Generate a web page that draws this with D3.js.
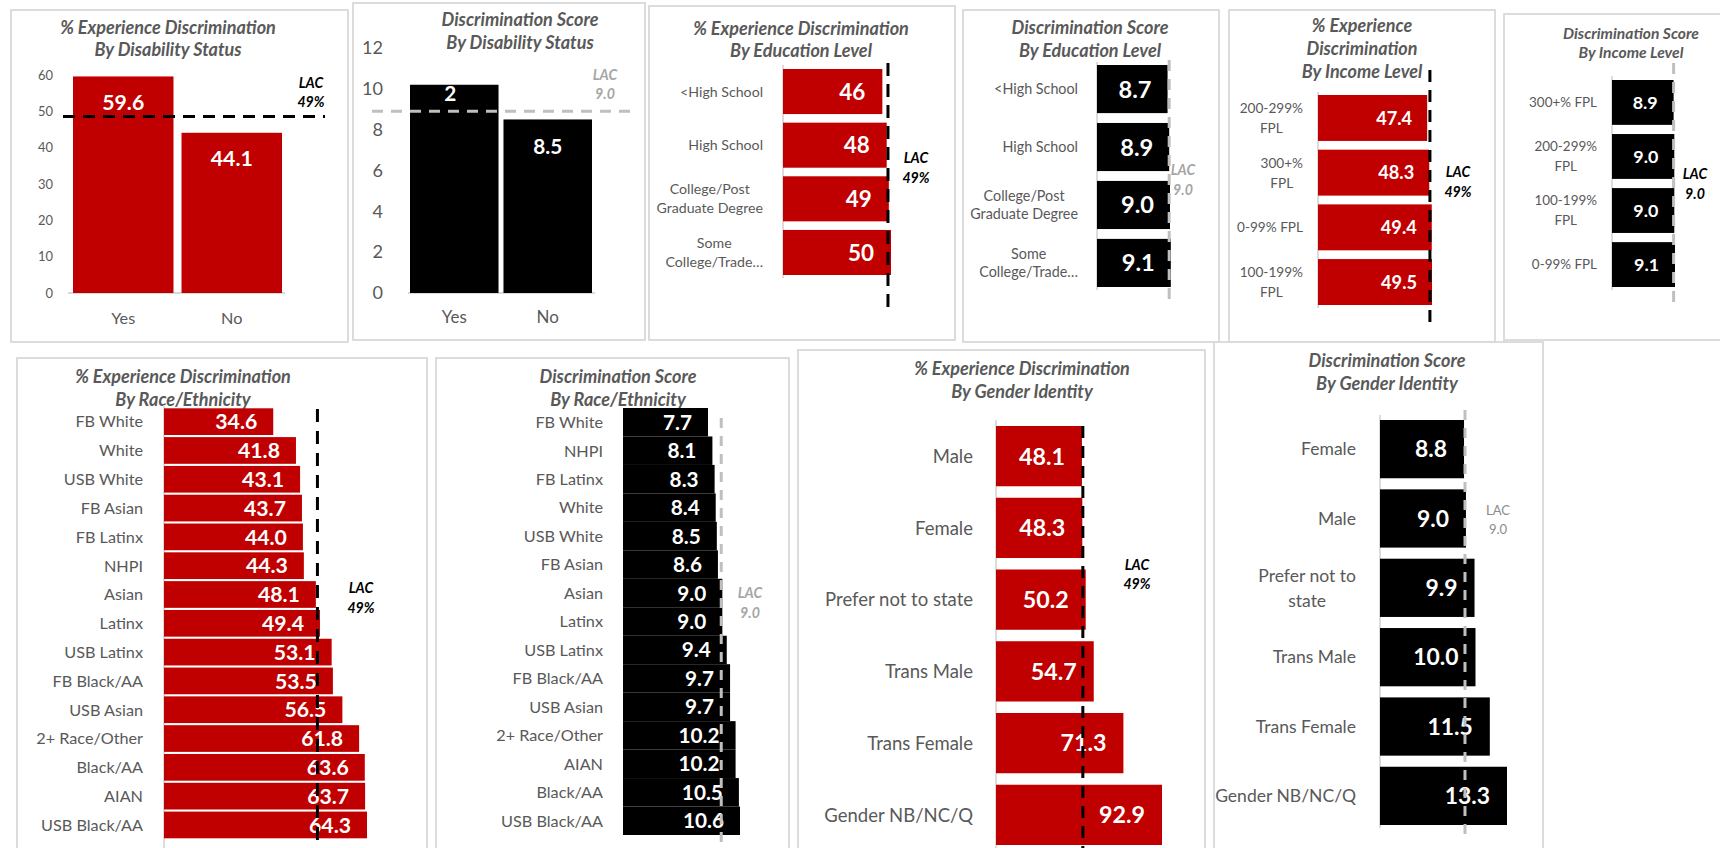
<!DOCTYPE html>
<html><head><meta charset="utf-8">
<script src="https://cdn.jsdelivr.net/npm/d3@7"></script>
<style>
html,body{margin:0;padding:0;background:#fff;overflow:hidden}
svg{display:block}
</style></head><body>
<svg id="c" width="1720" height="848"></svg>
<script>
// ---------------- DATA ----------------
const disabilityCats = ["Yes", "No"];
const disabilityPct = [59.6, 44.1];
const disabilityScore = [10.2, 8.5];
const disabilityScoreLabels = ["2", "8.5"];
const disabilityPctTicks = [0, 10, 20, 30, 40, 50, 60];
const disabilityScoreTicks = [0, 2, 4, 6, 8, 10, 12];

const educationCats = ["<High School", "High School", "College/Post\nGraduate Degree", "Some\nCollege/Trade…"];
const educationPct = [46, 48, 49, 50];
const educationScore = [8.7, 8.9, 9.0, 9.1];

const incomePctCats = ["200-299%\nFPL", "300+%\nFPL", "0-99% FPL", "100-199%\nFPL"];
const incomePct = [47.4, 48.3, 49.4, 49.5];
const incomeScoreCats = ["300+% FPL", "200-299%\nFPL", "100-199%\nFPL", "0-99% FPL"];
const incomeScore = [8.9, 9.0, 9.0, 9.1];

const racePctCats = ["FB White", "White", "USB White", "FB Asian", "FB Latinx", "NHPI", "Asian", "Latinx", "USB Latinx", "FB Black/AA", "USB Asian", "2+ Race/Other", "Black/AA", "AIAN", "USB Black/AA"];
const racePct = [34.6, 41.8, 43.1, 43.7, 44.0, 44.3, 48.1, 49.4, 53.1, 53.5, 56.5, 61.8, 63.6, 63.7, 64.3];
const raceScoreCats = ["FB White", "NHPI", "FB Latinx", "White", "USB White", "FB Asian", "Asian", "Latinx", "USB Latinx", "FB Black/AA", "USB Asian", "2+ Race/Other", "AIAN", "Black/AA", "USB Black/AA"];
const raceScore = [7.7, 8.1, 8.3, 8.4, 8.5, 8.6, 9.0, 9.0, 9.4, 9.7, 9.7, 10.2, 10.2, 10.5, 10.6];

const genderPctCats = ["Male", "Female", "Prefer not to state", "Trans Male", "Trans Female", "Gender NB/NC/Q"];
const genderPct = [48.1, 48.3, 50.2, 54.7, 71.3, 92.9];
const genderScoreCats = ["Female", "Male", "Prefer not to\nstate", "Trans Male", "Trans Female", "Gender NB/NC/Q"];
const genderScore = [8.8, 9.0, 9.9, 10.0, 11.5, 13.3];

const lacPctValue = 48.6;   const lacPctLabel = ["LAC", "49%"];
const lacScoreValue = 8.9;  const lacScoreLabel = ["LAC", "9.0"];

// ---------------- STYLE ----------------
const FONT = "Lato, 'Noto Sans', sans-serif";
const RED = "#C00000", BLACK = "#000000", GRAY = "#595959", BORDER = "#d9d9d9", LGRAY = "#bfbfbf", LACGRAY = "#a6a6a6";
const svg = d3.select("#c").style("font-family", FONT);

// font size so that a sample string reaches a measured width
const meas = svg.append("text").attr("x", 10).attr("y", 400).attr("font-size", 100).attr("fill", "none");
function fit(sample, w, bold, italic) {
  meas.attr("font-weight", bold ? "bold" : "normal").attr("font-style", italic ? "italic" : "normal").text(sample);
  return 100 * w / meas.node().getComputedTextLength();
}

function box(x0, y0, x1, y1) {
  svg.append("rect").attr("x", x0).attr("y", y0).attr("width", x1 - x0).attr("height", y1 - y0)
    .attr("fill", "#fff").attr("stroke", BORDER).attr("stroke-width", 1.8);
}
function title(lines, cx, baselines, fs) {
  lines.forEach((t, i) => svg.append("text").attr("x", cx).attr("y", baselines[i])
    .attr("text-anchor", "middle").attr("font-size", fs).attr("font-weight", "bold")
    .attr("font-style", "italic").attr("fill", GRAY).text(t));
}
function lacText(lines, cx, baselines, fs, color, bold, italic) {
  lines.forEach((t, i) => svg.append("text").attr("x", cx).attr("y", baselines[i])
    .attr("text-anchor", "middle").attr("font-size", fs)
    .attr("font-weight", bold ? "bold" : "normal").attr("font-style", italic ? "italic" : "normal")
    .attr("fill", color).text(t));
}
function catLabel(text, xRight, yCenter, fs, lh) {
  const lines = text.split("\n");
  const g = svg.append("g");
  const nodes = lines.map(l => g.append("text").attr("font-size", fs).attr("fill", GRAY).text(l));
  const widths = nodes.map(n => n.node().getComputedTextLength());
  const maxW = d3.max(widths);
  const cx = xRight - maxW / 2;
  const first = yCenter - (lines.length - 1) * lh / 2 + 0.36 * fs;
  nodes.forEach((n, i) => n.attr("x", cx).attr("y", first + i * lh).attr("text-anchor", "middle"));
}

function hbar(o) {
  const y = d3.scaleBand().domain(o.cats).range(o.yRange).paddingInner(o.pad).paddingOuter(0);
  const x = d3.scaleLinear().domain([0, o.dmax]).range(o.xRange);
  if (o.axis) svg.append("line").attr("x1", x(0)).attr("x2", x(0)).attr("y1", o.axis[0]).attr("y2", o.axis[1])
    .attr("stroke", BORDER).attr("stroke-width", 1.8);
  svg.append("g").selectAll("rect").data(o.vals).join("rect")
    .attr("x", x(0)).attr("y", (d, i) => y(o.cats[i])).attr("width", d => x(d) - x(0))
    .attr("height", y.bandwidth()).attr("fill", o.color);
  svg.append("g").selectAll("text").data(o.vals).join("text")
    .attr("x", d => x(d) - o.valPad).attr("y", (d, i) => y(o.cats[i]) + y.bandwidth() / 2 + 0.36 * o.valFs)
    .attr("text-anchor", "end").attr("font-size", o.valFs).attr("font-weight", "bold").attr("fill", "#fff")
    .text(d => d.toFixed(o.dec));
  o.cats.forEach(c => catLabel(c, o.catRight, y(c) + y.bandwidth() / 2, o.catFs, o.lh || 20));
  svg.append("line").attr("x1", x(o.lac)).attr("x2", x(o.lac)).attr("y1", o.lacY[0]).attr("y2", o.lacY[1])
    .attr("stroke", o.lacColor).attr("stroke-width", 3).attr("stroke-dasharray", o.dash);
}

function vbar(o) {
  const x = d3.scaleBand().domain(o.cats).range(o.xRange).paddingInner(o.pad).paddingOuter(0);
  const y = d3.scaleLinear().domain(o.domain).range(o.yRange);
  const ya = svg.append("g").attr("transform", `translate(${o.tickX},0)`)
    .call(d3.axisLeft(y).tickValues(o.ticks).tickSize(0).tickPadding(0));
  ya.select(".domain").remove();
  ya.selectAll("text").attr("font-size", o.tickFs).attr("fill", GRAY).attr("font-family", FONT);
  svg.append("line").attr("x1", o.base[0]).attr("x2", o.base[1]).attr("y1", y(0)).attr("y2", y(0))
    .attr("stroke", BORDER).attr("stroke-width", 1.8);
  svg.append("g").selectAll("rect").data(o.vals).join("rect")
    .attr("x", (d, i) => x(o.cats[i])).attr("y", d => y(d)).attr("width", x.bandwidth())
    .attr("height", d => y(0) - y(d)).attr("fill", o.color);
  const xa = svg.append("g").attr("transform", `translate(0,${y(0)})`)
    .call(d3.axisBottom(x).tickSize(0).tickPadding(o.xPad));
  xa.select(".domain").remove();
  xa.selectAll("text").attr("font-size", o.xFs).attr("fill", GRAY).attr("font-family", FONT);
  svg.append("g").selectAll("text").data(o.vals).join("text")
    .attr("x", (d, i) => x(o.cats[i]) + x.bandwidth() / 2 + (o.labDx ? o.labDx[i] : 0))
    .attr("y", (d, i) => y(d) + o.labDy[i])
    .attr("text-anchor", "middle").attr("font-size", o.valFs).attr("font-weight", "bold").attr("fill", "#fff")
    .text((d, i) => o.labels ? o.labels[i] : d.toFixed(1));
  svg.append("line").attr("x1", o.lacX[0]).attr("x2", o.lacX[1]).attr("y1", y(o.lac)).attr("y2", y(o.lac))
    .attr("stroke", o.lacColor).attr("stroke-width", 3).attr("stroke-dasharray", o.dash);
}

// font sizes fitted to reference text widths
const tPct = fit("% Experience Discrimination", 216, true, true);
const tScore = fit("Discrimination Score", 157, true, true);
const tIncPct = fit("Discrimination", 111, true, true);
const tIncScore = fit("Discrimination Score", 136, true, true);
const lacFs = fit("LAC", 24.5, true, true);
const lacFsReg = fit("LAC", 24, false, false);
const fs = {
  p1Tick: fit("60", 15, false, false), p1X: fit("Yes", 24, false, false), p1Val: fit("59.6", 42, true, false),
  p2Tick: fit("12", 21, false, false), p2X: fit("Yes", 25, false, false), p2Val: fit("8.5", 29, true, false),
  p3Cat: fit("<High School", 83, false, false), p3Val: fit("46", 26, true, false),
  p4Cat: fit("<High School", 84, false, false), p4Val: fit("8.7", 33, true, false),
  p5Cat: fit("0-99% FPL", 66, false, false), p5Val: fit("47.4", 36, true, false),
  p6Cat: fit("300+% FPL", 68, false, false), p6Val: fit("8.9", 25, true, false),
  p7Cat: fit("USB Black/AA", 102, false, false), p7Val: fit("34.6", 42, true, false),
  p8Cat: fit("USB Black/AA", 102, false, false), p8Val: fit("7.7", 29, true, false),
  p9Cat: fit("Prefer not to state", 148, false, false), p9Val: fit("48.1", 46, true, false),
  p10Cat: fit("Gender NB/NC/Q", 141, false, false), p10Val: fit("8.8", 32, true, false)
};
meas.remove();

// ---------------- PANELS ----------------
box(11, 10, 348, 342);
box(353, 3, 645, 340);
box(649, 6, 955, 340);
box(963, 10, 1219, 342);
box(1229, 10, 1495, 342);
box(1504, 14, 1730, 340);
box(17, 358, 427, 870);
box(436, 358, 789, 870);
box(798, 350, 1205, 870);
box(1214, 342, 1543, 870);

// P1
title(["% Experience Discrimination", "By Disability Status"], 168, [34, 56], tPct);
vbar({cats: disabilityCats, vals: disabilityPct, xRange: [73, 282], pad: 0.074, domain: [0, 60], yRange: [293, 75],
  ticks: disabilityPctTicks, tickX: 53, tickFs: fs.p1Tick, base: [68, 285], color: RED,
  xPad: 19, xFs: fs.p1X, valFs: fs.p1Val, labDy: [34, 33],
  lac: lacPctValue, lacX: [63, 325], lacColor: BLACK, dash: "12,8"});
lacText(lacPctLabel, 311, [88, 107], lacFs, BLACK, true, true);

// P2
title(["Discrimination Score", "By Disability Status"], 520, [26, 49], tScore);
vbar({cats: disabilityCats, vals: disabilityScore, labels: disabilityScoreLabels, xRange: [410, 592], pad: 0.053,
  domain: [0, 12], yRange: [293, 48], ticks: disabilityScoreTicks, tickX: 383, tickFs: fs.p2Tick,
  base: [408, 595], color: BLACK, xPad: 18, xFs: fs.p2X, valFs: fs.p2Val, labDy: [16, 35], labDx: [-4, 0],
  lac: lacScoreValue, lacX: [372, 638], lacColor: LGRAY, dash: "11,8"});
lacText(lacScoreLabel, 605, [80, 99], lacFs, LACGRAY, true, true);

// P3
title(["% Experience Discrimination", "By Education Level"], 801, [35, 57], tPct);
hbar({cats: educationCats, vals: educationPct, dec: 0, dmax: 50, xRange: [783, 891], yRange: [69, 275], pad: 0.16,
  axis: [65, 278], catRight: 763, catFs: fs.p3Cat, lh: 19, valFs: fs.p3Val, valPad: 17, color: RED,
  lac: lacPctValue, lacY: [63, 308], lacColor: BLACK, dash: "13,8"});
lacText(lacPctLabel, 916, [163, 183], lacFs, BLACK, true, true);

// P4
title(["Discrimination Score", "By Education Level"], 1090, [34, 57], tScore);
hbar({cats: educationCats, vals: educationScore, dec: 1, dmax: 9, xRange: [1097, 1170], yRange: [65, 287], pad: 0.17,
  axis: [62, 290], catRight: 1078, catFs: fs.p4Cat, lh: 18.5, valFs: fs.p4Val, valPad: 16, color: BLACK,
  lac: lacScoreValue, lacY: [60, 303], lacColor: LGRAY, dash: "11,8"});
lacText(lacScoreLabel, 1183, [175, 195], lacFs, LACGRAY, true, true);

// P5
title(["% Experience", "Discrimination", "By Income Level"], 1362, [32, 55, 78], tIncPct);
hbar({cats: incomePctCats, vals: incomePct, dec: 1, dmax: 49.5, xRange: [1318, 1432], yRange: [95, 305], pad: 0.16,
  axis: [92, 308], catRight: 1303, catFs: fs.p5Cat, lh: 20, valFs: fs.p5Val, valPad: 15, color: RED,
  lac: lacPctValue, lacY: [70, 328], lacColor: BLACK, dash: "12,8"});
lacText(lacPctLabel, 1458, [177, 197], lacFs, BLACK, true, true);

// P6
title(["Discrimination Score", "By Income Level"], 1631, [39, 58], tIncScore);
hbar({cats: incomeScoreCats, vals: incomeScore, dec: 1, dmax: 9.1, xRange: [1612, 1675], yRange: [80, 287], pad: 0.17,
  axis: [76, 290], catRight: 1597, catFs: fs.p6Cat, lh: 20, valFs: fs.p6Val, valPad: 16, color: BLACK,
  lac: lacScoreValue, lacY: [63, 307], lacColor: LGRAY, dash: "11,8"});
lacText(lacScoreLabel, 1695, [179, 199], lacFs, BLACK, true, true);

// P7
title(["% Experience Discrimination", "By Race/Ethnicity"], 183, [383, 406], tPct);
hbar({cats: racePctCats, vals: racePct, dec: 1, dmax: 64.3, xRange: [164, 367], yRange: [408.3, 838.3], pad: 0.073,
  axis: [405, 848], catRight: 143, catFs: fs.p7Cat, valFs: fs.p7Val, valPad: 16, color: RED,
  lac: lacPctValue, lacY: [409, 848], lacColor: BLACK, dash: "13,9"});
lacText(lacPctLabel, 361, [593, 613], lacFs, BLACK, true, true);

// P8
title(["Discrimination Score", "By Race/Ethnicity"], 618, [383, 406], tScore);
hbar({cats: raceScoreCats, vals: raceScore, dec: 1, dmax: 10.6, xRange: [623, 740], yRange: [408, 835], pad: 0,
  axis: null, catRight: 603, catFs: fs.p8Cat, valFs: fs.p8Val, valPad: 16, color: BLACK,
  lac: lacScoreValue, lacY: [418, 848], lacColor: LGRAY, dash: "10,8"});
lacText(lacScoreLabel, 750, [598, 618], lacFs, LACGRAY, true, true);

// P9
title(["% Experience Discrimination", "By Gender Identity"], 1022, [375, 398], tPct);
hbar({cats: genderPctCats, vals: genderPct, dec: 1, dmax: 92.9, xRange: [996, 1162], yRange: [426, 845], pad: 0.16,
  axis: [420, 848], catRight: 973, catFs: fs.p9Cat, valFs: fs.p9Val, valPad: 17, color: RED,
  lac: lacPctValue, lacY: [426, 848], lacColor: BLACK, dash: "12,8"});
lacText(lacPctLabel, 1137, [570, 589], lacFs, BLACK, true, true);

// P10
title(["Discrimination Score", "By Gender Identity"], 1387, [367, 390], tScore);
hbar({cats: genderScoreCats, vals: genderScore, dec: 1, dmax: 13.3, xRange: [1380, 1507], yRange: [420, 825], pad: 0.16,
  axis: [415, 828], catRight: 1356, catFs: fs.p10Cat, lh: 25, valFs: fs.p10Val, valPad: 17, color: BLACK,
  lac: lacScoreValue, lacY: [410, 838], lacColor: LGRAY, dash: "10,8"});
lacText(lacScoreLabel, 1498, [515, 534], lacFsReg, "#8c8c8c", false, false);
</script>
</body></html>
